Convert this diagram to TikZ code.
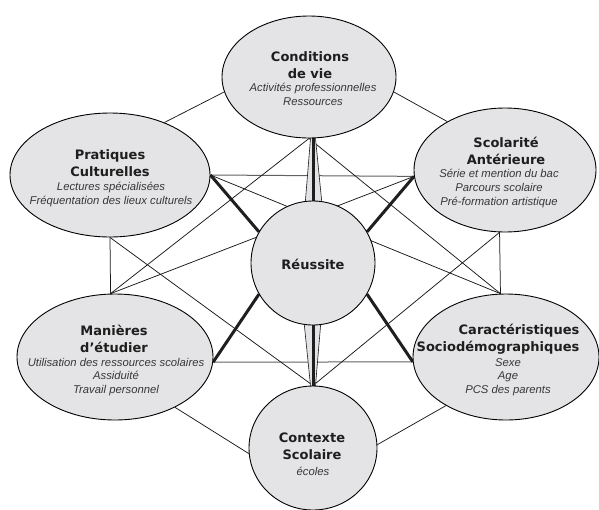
\documentclass[tikz,border=0pt]{standalone}
\usepackage{fontspec}
\newfontfamily\titlefam{DejaVu Sans}
\newfontfamily\subfam{Liberation Sans}
\usetikzlibrary{shapes.geometric,calc}
\pgfdeclarelayer{bg}
\pgfsetlayers{bg,main}
\definecolor{blobgray}{RGB}{228,228,230}
\definecolor{titlecol}{RGB}{30,30,30}
\definecolor{subcol}{RGB}{55,55,55}
\definecolor{linecol}{RGB}{25,25,25}
\begin{document}
\begin{tikzpicture}[x=1pt,y=-1pt,
  blob/.style={ellipse, draw=black, line width=0.9pt, fill=blobgray, inner sep=0pt},
  hub/.style={circle, draw=black, line width=0.9pt, fill=blobgray, inner sep=0pt, minimum size=124pt},
  ttl/.style={align=center, font=\titlefam\bfseries\fontsize{13}{17}\selectfont, text=titlecol, inner sep=0pt},
  sub/.style={align=center, font=\subfam\itshape\fontsize{11.3}{13.6}\selectfont, text=subcol, inner sep=0pt},
  link/.style={line width=0.75pt, draw=linecol},
  hlink/.style={line width=1pt, draw=black!62},
  strong/.style={line width=3pt, draw=black!88},
  wedgefill/.style={fill=blobgray}
]
\useasboundingbox (0,0) rectangle (599,509);

% factor ellipses
\node[blob, minimum width=174pt, minimum height=122pt] (cond) at (309,77) {};
\node[blob, minimum width=200pt, minimum height=124pt] (pc)   at (110,175) {};
\node[blob, minimum width=182pt, minimum height=124pt] (sco)  at (505,170) {};
\node[blob, minimum width=196pt, minimum height=126pt] (man)  at (115,357) {};
\node[blob, minimum width=186pt, minimum height=126pt] (car)  at (506,357) {};
\node[blob, minimum width=128pt, minimum height=124pt] (ctx)  at (313,448) {};
\node[hub] (reu) at (313,263) {};

% labels
\node[ttl] (cond-t) at (310,65) {Conditions\\de vie};
\node[sub] (cond-s) at (313,94.5) {Activités professionnelles\\Ressources};
\node[ttl] (pc-t) at (110,163) {Pratiques\\Culturelles};
\node[sub] (pc-s) at (111,194.5) {Lectures spécialisées\\Fréquentation des lieux culturels};
\node[ttl] (sco-t) at (506,150.5) {Scolarité\\Antérieure};
\node[sub] (sco-s) at (499,188.5) {Série et mention du bac\\Parcours scolaire\\Pré-formation artistique};
\node[ttl] (man-t) at (114,338.5) {Manières\\d’étudier};
\node[sub] (man-s) at (116,377) {Utilisation des ressources scolaires\\Assiduité\\Travail personnel};
\node[ttl, align=right] (car-t) at (498,339) {Caractéristiques\\Sociodémographiques};
\node[sub] (car-s) at (508,377) {Sexe\\Age\\PCS des parents};
\node[ttl] (ctx-t) at (312,446) {Contexte\\Scolaire};
\node[sub] (ctx-s) at (313,471) {écoles};
\node[ttl] (reu-t) at (313,264) {Réussite};

\begin{pgfonlayer}{bg}
  % ring of neighbouring factors
  \draw[link] (pc.44) -- (cond.190);
  \draw[link] (cond.350) -- (sco.140);
  \draw[link] (pc.south) -- (man.94);
  \draw[link] (sco.265) -- (car.95);
  \draw[link] (man.320) -- (ctx.185);
  \draw[link] (car.219) -- (ctx.3);
  % horizontal links
  \draw[hlink] (pc.east) -- (sco.184);
  \draw[hlink] (man.357.5) -- (car.183);
  % diagonal links
  \draw[link] (pc.east) -- (car.95);
  \draw[link] (sco.184) -- (man.94);
  \draw[link] (cond.south) -- (man.94);
  \draw[link] (cond.south) -- (car.95);
  \draw[link] (pc.south) -- (ctx.north);
  \draw[link] (sco.265) -- (ctx.north);
  % tapered links to the hub, top and bottom
  \coordinate (topapex) at (reu.north |- cond.south);
  \coordinate (botapex) at (reu.south |- ctx.north);
  \fill[wedgefill] ($(topapex)+(-2.5,0)$) -- (reu.97.4) -- (reu.82.6) -- ($(topapex)+(2.5,0)$) -- cycle;
  \draw[link, line width=0.6pt] ($(topapex)+(-2.5,0)$) -- (reu.97.4);
  \draw[link, line width=0.6pt] ($(topapex)+(2.5,0)$) -- (reu.82.6);
  \draw[strong] (topapex) -- (reu.north);
  \fill[wedgefill] ($(botapex)+(-2.5,0)$) -- (reu.262.6) -- (reu.277.4) -- ($(botapex)+(2.5,0)$) -- cycle;
  \draw[link, line width=0.6pt] ($(botapex)+(-2.5,0)$) -- (reu.262.6);
  \draw[link, line width=0.6pt] ($(botapex)+(2.5,0)$) -- (reu.277.4);
  \draw[strong] (botapex) -- (reu.south);
  % strong links to the hub
  \draw[strong] (pc.east) -- (reu.150);
  \draw[strong] (sco.184) -- (reu.30);
  \draw[strong] (man.357.5) -- (reu.210);
  \draw[strong] (car.183) -- (reu.330);
\end{pgfonlayer}
\end{tikzpicture}
\end{document}
